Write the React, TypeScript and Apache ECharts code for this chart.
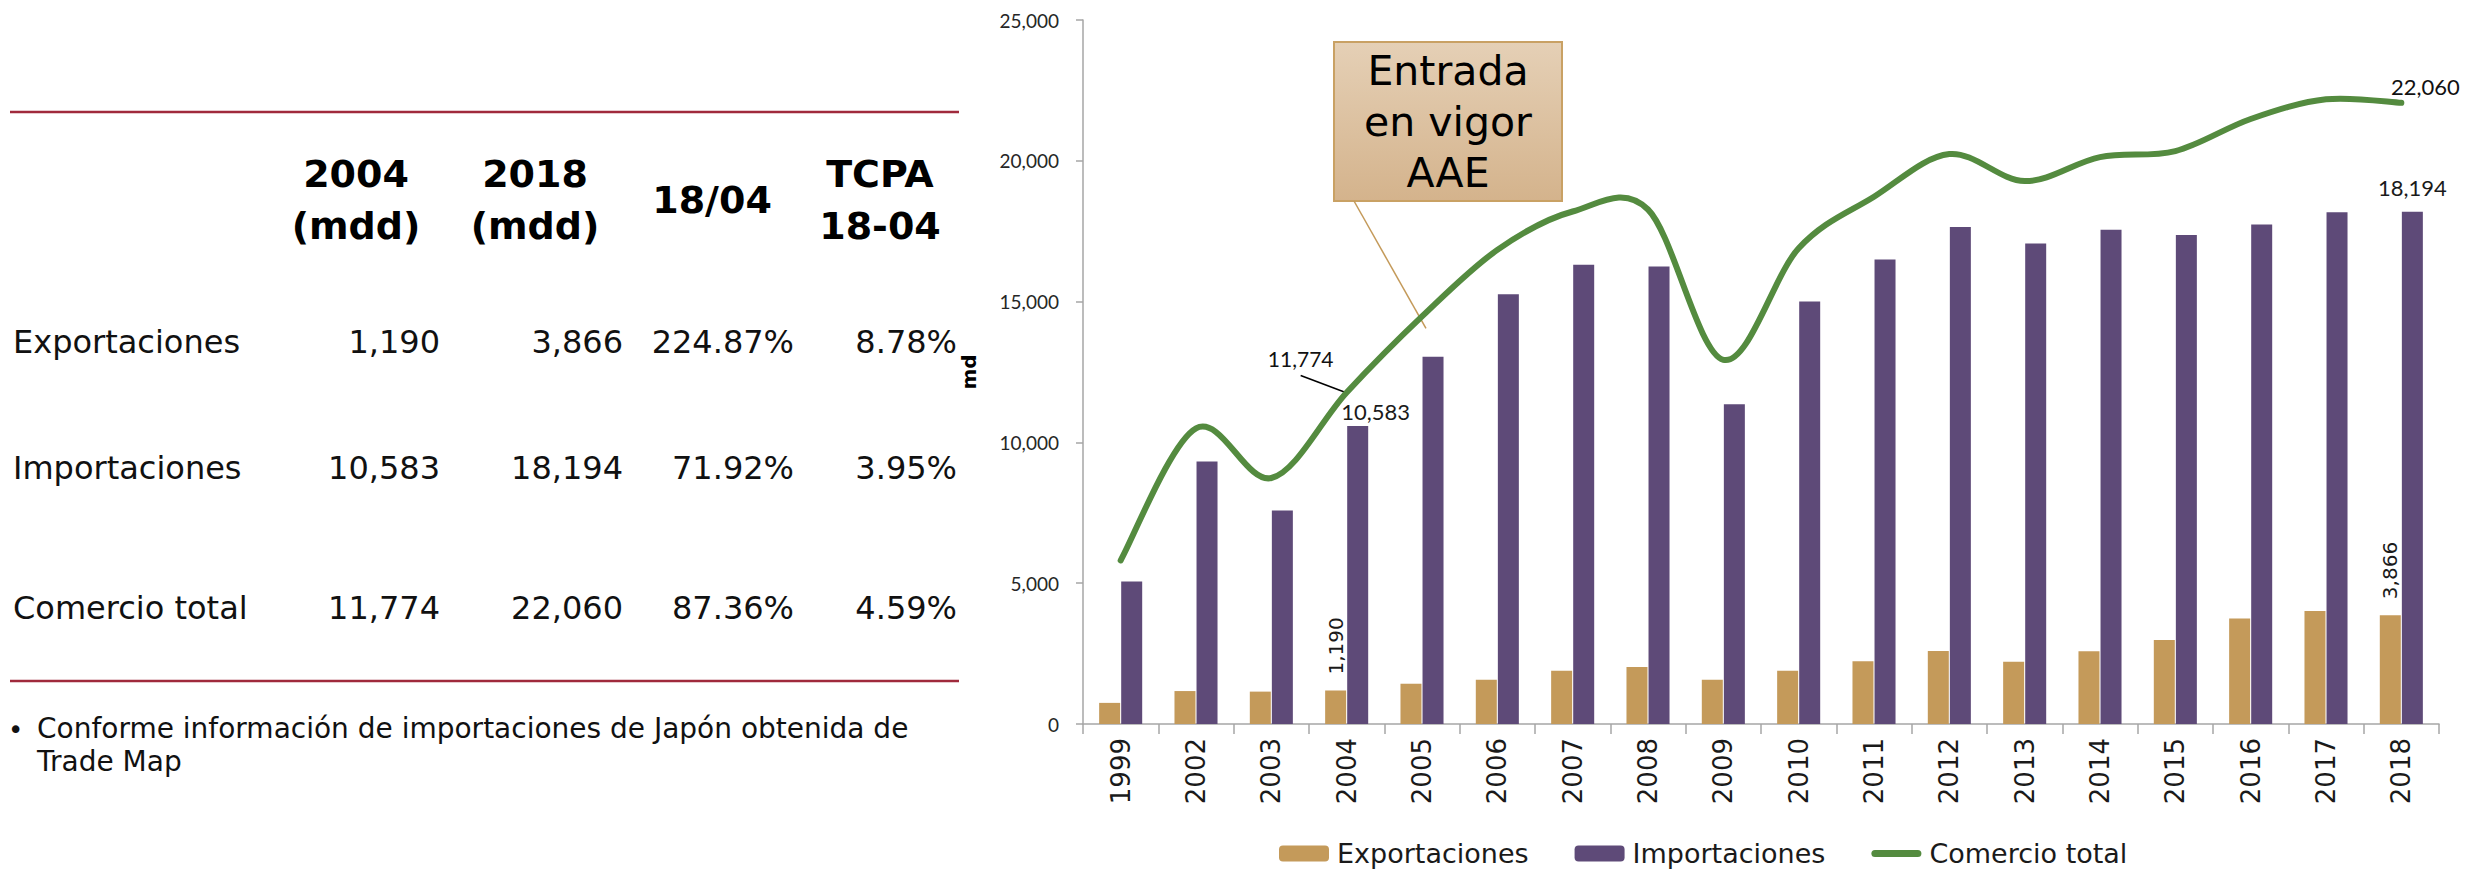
import React, { useEffect, useRef } from "react";
import * as echarts from "echarts";

const years = ["1999","2002","2003","2004","2005","2006","2007","2008","2009","2010","2011","2012","2013","2014","2015","2016","2017","2018"];
const exportaciones = [750,1170,1150,1190,1430,1575,1895,2025,1575,1895,2230,2595,2215,2580,2985,3745,4015,3866];
const importaciones = [5060,9325,7585,10583,13043,15261,16305,16246,11358,15000,16495,17645,17064,17550,17361,17740,18170,18194];
const comercioTotal = [5810,10500,8735,11774,14473,16836,18200,18271,12933,16895,18725,20240,19279,20130,20346,21485,22185,22060];

const tableHeaders = ["2004\n(mdd)", "2018\n(mdd)", "18/04", "TCPA\n18-04"];
const tableRowNames = ["Exportaciones", "Importaciones", "Comercio total"];
const tableCol2004 = ["1,190", "10,583", "11,774"];
const tableCol2018 = ["3,866", "18,194", "22,060"];
const tableColRatio = ["224.87%", "71.92%", "87.36%"];
const tableColTcpa = ["8.78%", "3.95%", "4.59%"];
const noteLines = ["Conforme información de importaciones de Japón obtenida de", "Trade Map"];
const annotationText = "Entrada\nen vigor\nAAE";

const TAN = "#C49A5A";
const PURPLE = "#5E4A78";
const GREEN = "#548B3F";
const RED = "#A02A3C";
const MONT = "'DejaVu Sans', 'Noto Sans', sans-serif";
const CAL = "Lato, 'Open Sans', sans-serif";
const fmt = (v: number) => v.toLocaleString("en-US");

export default function App() {
  const ref = useRef<HTMLDivElement>(null);
  useEffect(() => {
    if (!ref.current) return;
    const chart = echarts.init(ref.current, undefined, { renderer: "svg" });
    const option: any = {
      animation: false,
      backgroundColor: "#ffffff",
      grid: { left: 1083, right: 39, top: 20, bottom: 145, containLabel: false },
      legend: {
        left: 1274,
        top: 835,
        itemWidth: 50,
        itemHeight: 16,
        itemGap: 46,
        textStyle: { fontFamily: MONT, fontSize: 27, color: "#1a1a1a", padding: [0, 0, 0, 3] },
        data: [
          { name: "Exportaciones" },
          { name: "Importaciones" },
          {
            name: "Comercio total",
            icon: "path://M4,0 H52 A4,4 0 0 1 52,8 H4 A4,4 0 0 1 4,0 Z",
            itemStyle: { color: GREEN },
          },
        ],
      },
      xAxis: {
        type: "category",
        data: years,
        boundaryGap: true,
        axisLine: { lineStyle: { color: "#A6A6A6", width: 1.5 } },
        axisTick: { show: true, length: 10, lineStyle: { color: "#A6A6A6", width: 1.5 } },
        axisLabel: { rotate: 90, fontFamily: MONT, fontSize: 26, color: "#1a1a1a", margin: 14, interval: 0 },
      },
      yAxis: {
        type: "value",
        min: 0,
        max: 25000,
        interval: 5000,
        name: "md",
        nameLocation: "middle",
        nameGap: 104,
        nameRotate: 90,
        nameTextStyle: { fontFamily: MONT, fontWeight: "bold", fontSize: 20, color: "#000" },
        splitLine: { show: false },
        axisLine: { show: true, lineStyle: { color: "#A6A6A6", width: 1.5 } },
        axisTick: { show: true, length: 7, lineStyle: { color: "#A6A6A6", width: 1.5 } },
        axisLabel: { fontFamily: CAL, fontSize: 19, color: "#262626", margin: 24, formatter: (v: number) => fmt(v) },
      },
      series: [
        {
          name: "Exportaciones",
          type: "bar",
          barWidth: 21,
          barGap: "5%",
          itemStyle: { color: TAN },
          data: exportaciones.map((v, i) =>
            i === 3 || i === 17
              ? {
                  value: v,
                  label: {
                    show: true,
                    position: "top",
                    rotate: 90,
                    align: "left",
                    verticalAlign: "middle",
                    distance: 16,
                    fontFamily: MONT,
                    fontSize: 20,
                    color: "#1a1a1a",
                    formatter: (p: any) => fmt(p.value),
                  },
                }
              : v
          ),
        },
        {
          name: "Importaciones",
          type: "bar",
          barWidth: 21,
          barGap: "5%",
          itemStyle: { color: PURPLE },
          data: importaciones.map((v, i) =>
            i === 3 || i === 17
              ? {
                  value: v,
                  label: {
                    show: true,
                    position: "top",
                    distance: i === 3 ? 3 : 13,
                    offset: i === 3 ? [18, 0] : [0, 0],
                    fontFamily: CAL,
                    fontSize: 22,
                    color: "#1a1a1a",
                    formatter: (p: any) => fmt(p.value),
                  },
                }
              : v
          ),
        },
        {
          name: "Comercio total",
          type: "custom",
          itemStyle: { color: GREEN },
          encode: { x: 0, y: 1 },
          data: comercioTotal.map((v, i) => [i, v]),
          renderItem: (params: any, api: any) => {
            if (params.dataIndex !== 0) return null;
            const pts: number[][] = comercioTotal.map((v, i) => api.coord([i, v]));
            let d = `M${pts[0][0]},${pts[0][1]}`;
            for (let i = 0; i < pts.length - 1; i++) {
              const p0 = pts[i - 1] || pts[i];
              const p1 = pts[i];
              const p2 = pts[i + 1];
              const p3 = pts[i + 2] || pts[i + 1];
              const c1x = p1[0] + (p2[0] - p0[0]) / 6;
              const c1y = p1[1] + (p2[1] - p0[1]) / 6;
              const c2x = p2[0] - (p3[0] - p1[0]) / 6;
              const c2y = p2[1] - (p3[1] - p1[1]) / 6;
              d += ` C${c1x},${c1y} ${c2x},${c2y} ${p2[0]},${p2[1]}`;
            }
            return {
              type: "path",
              silent: true,
              shape: { pathData: d },
              style: { fill: "none", stroke: GREEN, lineWidth: 6, lineCap: "round", lineJoin: "round" },
            };
          },
        },
      ],
    };
    chart.setOption(option);

    const p2004: number[] = chart.convertToPixel({ gridIndex: 0 }, [3, comercioTotal[3]]) as any;
    const p2005: number[] = chart.convertToPixel({ gridIndex: 0 }, [4, comercioTotal[4]]) as any;
    const p2018: number[] = chart.convertToPixel({ gridIndex: 0 }, [17, comercioTotal[17]]) as any;

    const txt = (text: string, x: number, y: number, size: number, align: string, extra: any = {}) => ({
      type: "text",
      x,
      y,
      silent: true,
      style: {
        text,
        fontFamily: MONT,
        fontSize: size,
        fill: "#111",
        textAlign: align,
        align,
        textVerticalAlign: "middle",
        verticalAlign: "middle",
        ...extra,
      },
    });

    const graphics: any[] = [];
    graphics.push({ type: "line", shape: { x1: 10, y1: 112, x2: 959, y2: 112 }, style: { stroke: RED, lineWidth: 2.5 } });
    graphics.push({ type: "line", shape: { x1: 10, y1: 681, x2: 959, y2: 681 }, style: { stroke: RED, lineWidth: 2.5 } });
    const headerX = [356, 535, 712, 880];
    tableHeaders.forEach((h, i) => {
      graphics.push(txt(h, headerX[i], 200, 38, "center", { fontWeight: "bold", lineHeight: 52, fill: "#000" }));
    });
    const rowY = [342, 468, 608];
    tableRowNames.forEach((n, r) => {
      graphics.push(txt(n, 13, rowY[r], 32, "left"));
      graphics.push(txt(tableCol2004[r], 440, rowY[r], 32, "right"));
      graphics.push(txt(tableCol2018[r], 623, rowY[r], 32, "right"));
      graphics.push(txt(tableColRatio[r], 794, rowY[r], 32, "right"));
      graphics.push(txt(tableColTcpa[r], 957, rowY[r], 32, "right"));
    });
    graphics.push(txt("•", 8, 730, 26, "left"));
    graphics.push(txt(noteLines[0], 37, 728, 28, "left"));
    graphics.push(txt(noteLines[1], 37, 761, 28, "left"));

    graphics.push({
      type: "rect",
      shape: { x: 1334, y: 42, width: 228, height: 159 },
      style: {
        fill: new echarts.graphic.LinearGradient(0, 0, 0, 1, [
          { offset: 0, color: "#E5D0B6" },
          { offset: 1, color: "#D4B38C" },
        ]),
        stroke: "#C9A164",
        lineWidth: 2,
      },
    });
    graphics.push(txt(annotationText, 1448, 122, 41, "center", { lineHeight: 51, fill: "#000" }));
    graphics.push({
      type: "line",
      shape: { x1: 1354, y1: 201, x2: p2005[0] + 4, y2: p2005[1] + 12 },
      style: { stroke: TAN, lineWidth: 1.5 },
    });

    graphics.push({
      type: "line",
      shape: { x1: p2004[0] - 1, y1: p2004[1], x2: p2004[0] - 46, y2: p2004[1] - 17 },
      style: { stroke: "#000", lineWidth: 1.5 },
    });
    graphics.push(txt(fmt(comercioTotal[3]), p2004[0] - 46, p2004[1] - 34, 21, "center", { fontFamily: CAL }));
    graphics.push(txt(fmt(comercioTotal[17]), p2018[0] + 24, p2018[1] - 16, 22, "center", { fontFamily: CAL }));

    chart.setOption({ graphic: graphics });
    return () => chart.dispose();
  }, []);
  return <div ref={ref} style={{ position: "fixed", left: 0, top: 0, width: 2478, height: 869 }} />;
}
